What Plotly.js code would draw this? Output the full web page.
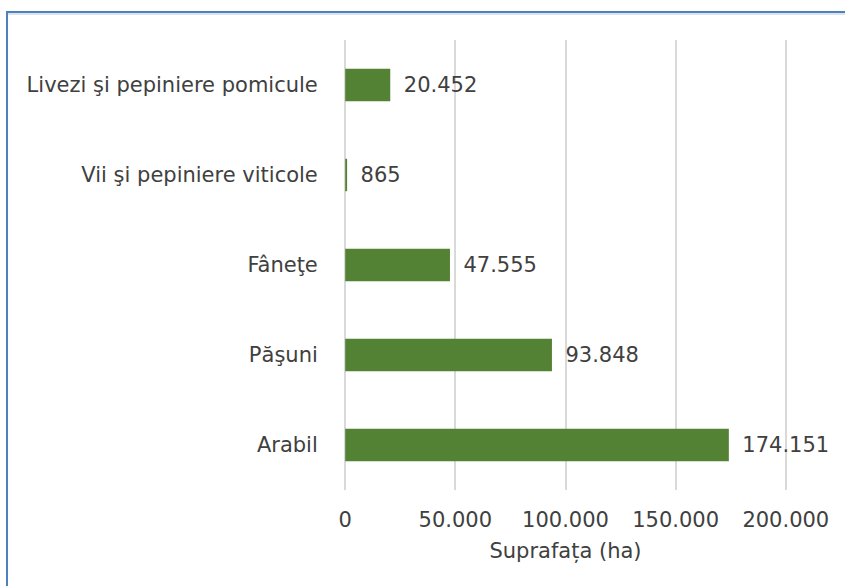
<!DOCTYPE html>
<html>
<head>
<meta charset="utf-8">
<script src="https://cdn.plot.ly/plotly-3.0.1.min.js"></script>
<style>
  html, body { margin: 0; padding: 0; background: #ffffff; }
  #wrap { position: relative; width: 845px; height: 586px; overflow: hidden; }
  #chart { position: absolute; left: 0; top: 0; width: 845px; height: 586px; }
  #frame { position: absolute; left: 6px; top: 11px; width: 900px; height: 700px;
           border-left: 2px solid #4f81bd; border-top: 2px solid #4f81bd; pointer-events: none; }
  #frame2 { position: absolute; left: 8px; top: 13px; width: 900px; height: 700px;
           border-top: 2px solid #dde3ea; pointer-events: none; }
</style>
</head>
<body>
<div id="wrap">
  <div id="chart"></div>
  <div id="frame"></div>
  <div id="frame2"></div>
</div>
<script>
const categories = ["Arabil", "Păşuni", "Fâneţe", "Vii şi pepiniere viticole", "Livezi şi pepiniere pomicule"];
const values = [174151, 93848, 47555, 865, 20452];
const tickValues = [0, 50000, 100000, 150000, 200000];
const xTitle = "Suprafața (ha)";

const textColor = "#404040";
const fontFam = "DejaVu Sans, Verdana, sans-serif";
const fs = 21;

Plotly.newPlot("chart", [{
  type: "bar",
  orientation: "h",
  y: categories,
  x: values,
  width: 0.36,
  marker: { color: "#548235" },
  texttemplate: "\u2002%{x:,}",
  textposition: "outside",
  cliponaxis: false,
  textfont: { family: fontFam, size: fs, color: textColor },
  hoverinfo: "none"
}], {
  width: 845, height: 586,
  margin: { l: 342.8, r: 56.8, t: 40, b: 96 },
  separators: ",.",
  paper_bgcolor: "rgba(0,0,0,0)",
  plot_bgcolor: "rgba(0,0,0,0)",
  showlegend: false,
  font: { family: fontFam, size: fs, color: textColor },
  xaxis: {
    range: [-1000, 201000],
    tickvals: tickValues,
    tickformat: ",",
    showgrid: true,
    gridcolor: "#d9d9d9",
    gridwidth: 2,
    zeroline: false,
    showline: false,
    ticks: "outside",
    ticklen: 11,
    tickcolor: "rgba(0,0,0,0)",
    tickfont: { family: fontFam, size: fs, color: textColor },
    title: { text: xTitle, font: { family: fontFam, size: fs, color: textColor }, standoff: 12 },
    automargin: false
  },
  yaxis: {
    categoryorder: "array",
    categoryarray: categories,
    showgrid: false,
    zeroline: false,
    showline: false,
    ticks: "outside",
    ticklen: 20,
    tickcolor: "rgba(0,0,0,0)",
    tickfont: { family: fontFam, size: fs, color: textColor },
    automargin: false
  },
  bargap: 0.64
}, { displayModeBar: false, staticPlot: true });
</script>
</body>
</html>
